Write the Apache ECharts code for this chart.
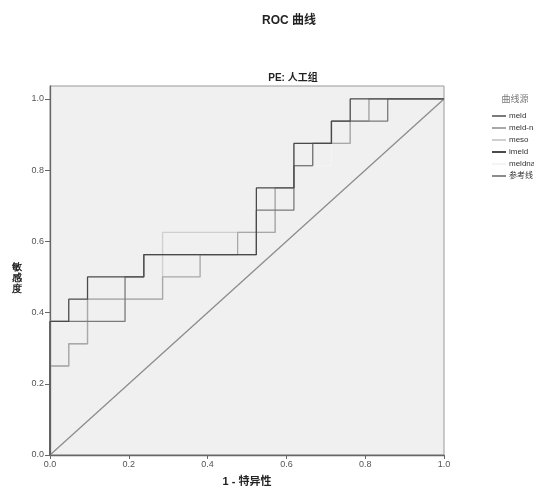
<!DOCTYPE html>
<html><head><meta charset="utf-8">
<script src="https://cdn.jsdelivr.net/npm/echarts@6/dist/echarts.min.js"></script>
<style>html,body{margin:0;padding:0;background:#fff}#c{width:534px;height:492px}</style>
</head><body><div id="c"></div>
<script>
var N = 21, P = 16; // negatives / positives
// step curves as [fpr numerator /21, tpr numerator /16]
var meld   = [[0,0],[0,6],[4,6],[4,8],[5,8],[5,9],[11,9],[11,11],[13,11],[13,13],[14,13],[14,14],[15,14],[15,15],[18,15],[18,16],[21,16]];
var meldNa = [[0,0],[0,4],[1,4],[1,5],[2,5],[2,7],[6,7],[6,8],[8,8],[8,9],[10,9],[10,10],[12,10],[12,12],[13,12],[13,13],[14,13],[14,14],[16,14],[16,15],[17,15],[17,16],[21,16]];
var meso   = [[0,0],[0,4],[1,4],[1,5],[2,5],[2,7],[6,7],[6,10],[12,10],[12,12],[13,12],[13,14],[16,14],[16,15],[17,15],[17,16],[21,16]];
var imeld  = [[0,0],[0,6],[1,6],[1,7],[2,7],[2,8],[5,8],[5,9],[11,9],[11,12],[13,12],[13,14],[15,14],[15,15],[16,15],[16,16],[21,16]];
var meldna = [[0,0],[0,6],[1,6],[1,7],[2,7],[2,8],[5,8],[5,9],[11,9],[11,11],[13,11],[13,13],[15,13],[15,15],[16,15],[16,16],[21,16]];
var refLine = [[0,0],[1,1]];
var xTicks = [0,0.2,0.4,0.6,0.8,1.0];
var yTicks = [0,0.2,0.4,0.6,0.8,1.0];
var seriesNames = ['meld','meld-na','meso','imeld','meldna','参考线'];
var seriesColors = ['#7a7a7a','#a8a8a8','#cfcfcf','#4a4a4a','#f4f4f4','#8c8c8c'];

function toRate(arr){ return arr.map(function(p){ return [p[0]/N, p[1]/P]; }); }
var dataSets = [toRate(meld), toRate(meldNa), toRate(meso), toRate(imeld), toRate(meldna), refLine];

var chart = echarts.init(document.getElementById('c'), null, {renderer:'canvas'});
var FONT = '"Liberation Sans", Arial, "Noto Sans CJK SC", sans-serif';
var series = dataSets.map(function(d,i){
  return {name: seriesNames[i], type:'line', data:d, symbol:'none', animation:false,
    z: [3,2,1,5,0,4][i],
    lineStyle:{color:seriesColors[i], width:1.3}, itemStyle:{color:seriesColors[i]}};
});
chart.setOption({
  backgroundColor:'#fff',
  textStyle:{fontFamily:FONT},
  title:[
    {text:'ROC 曲线', left:284, top:10, textAlign:'center', textStyle:{fontSize:12, fontWeight:'bold', color:'#222', fontFamily:FONT}},
    {text:'PE: 人工组', left:288, top:68, textAlign:'center', textStyle:{fontSize:10, fontWeight:'bold', color:'#222', fontFamily:FONT}},
    {text:'曲线源', left:510, top:90, textAlign:'center', textStyle:{fontSize:9, fontWeight:'normal', color:'#777', fontFamily:FONT}}
  ],
  legend:{orient:'vertical', left:487, top:107, itemWidth:14, itemHeight:2, itemGap:4, icon:'rect',
    data:seriesNames, selectedMode:false,
    textStyle:{fontSize:8, color:'#333', padding:[0,0,0,-2], fontFamily:FONT}},
  grid:{left:50, right:90, top:86, bottom:35, show:true, backgroundColor:'#f0f0f0', borderColor:'#999', borderWidth:1},
  xAxis:{type:'value', min:0, max:1, interval:0.2,
    name:'1 - 特异性', nameLocation:'middle', nameGap:21,
    nameTextStyle:{fontSize:11, fontWeight:'bold', color:'#222', fontFamily:FONT},
    axisLine:{show:true, lineStyle:{color:'#666', width:1.3}},
    axisTick:{show:true, inside:false, length:4, lineStyle:{color:'#666'}},
    axisLabel:{fontSize:9, color:'#555', margin:5, formatter:function(v){return v.toFixed(1);}},
    splitLine:{show:false}},
  yAxis:{type:'value', min:0, max:1+13/358,
    axisLine:{show:true, lineStyle:{color:'#666', width:1.3}},
    axisTick:{show:true, length:5, customValues:yTicks, lineStyle:{color:'#666'}},
    axisLabel:{fontSize:9, color:'#555', margin:6, customValues:yTicks, formatter:function(v){return v.toFixed(1);}},
    splitLine:{show:false}},
  graphic:[{type:'text', left:12, top:262, style:{text:'敏\n感\n度', fontSize:10, fontWeight:'bold', fill:'#222', lineHeight:11, font:'bold 10px "Noto Sans CJK SC"'}}],
  series:series
});
</script></body></html>
